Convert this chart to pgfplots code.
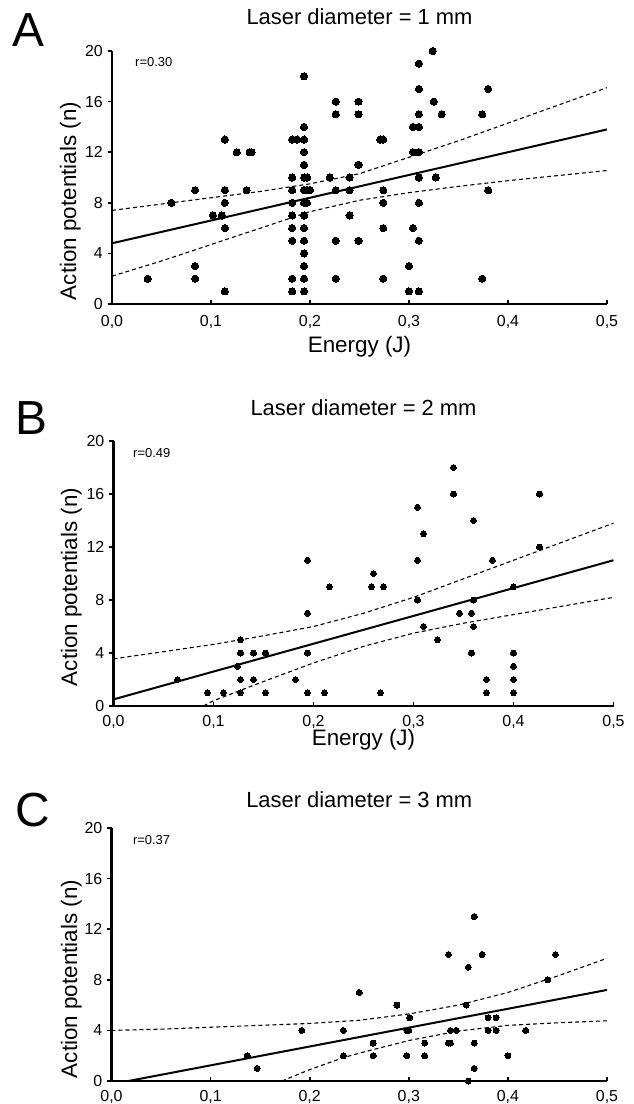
\documentclass[border=0pt]{standalone}
\usepackage{pgfplots}
\pgfplotsset{compat=1.18}
\usepackage{fontspec}
\setmainfont{Liberation Sans}

\newcommand\labfont{\fontsize{22.5}{22.5}\selectfont}
\newcommand\titlefont{\fontsize{22}{22}\selectfont}
\newcommand\tickfont{\fontsize{16}{16}\selectfont}
\newcommand\letterfont{\fontsize{48}{48}\selectfont}
\newcommand\rfont{\fontsize{13}{13}\selectfont}

\pgfplotsset{
  panel/.style={
    scale only axis,
    xmin=0, xmax=0.5, ymin=0, ymax=20,
    axis x line*=bottom, axis y line*=left,
    axis line style={line width=2.2bp, -},
    xtick={0,0.1,0.2,0.3,0.4,0.5},
    ytick={0,4,8,12,16,20},
    minor tick num=0,
    xtick align=inside, ytick align=outside,
    major tick length=4.5bp,
    every tick/.style={line width=1.6bp, black},
    clip mode=individual,
    /pgf/number format/assume math mode=true,
    tick label style={font=\tickfont, inner sep=0pt},
    xticklabel style={anchor=north,
      /pgf/number format/fixed, /pgf/number format/fixed zerofill,
      /pgf/number format/precision=1, /pgf/number format/use comma},
    yticklabel style={anchor=east, xshift=-4.5bp},
    title style={font=\titlefont, anchor=base, inner sep=0pt},
    label style={font=\labfont, inner sep=0pt},
  },
  dots/.style={only marks, mark=*, mark size=#1,
    mark options={draw=black, fill=black, line width=0pt}},
  fit/.style={black, line width=2bp},
  band/.style={black, line width=1.1bp, dash pattern=on 4bp off 3bp},
}

\begin{document}
\begin{tikzpicture}
\useasboundingbox (0,0) rectangle (634bp,-1104bp);

% ---------------- Laser diameter 1 mm ----------------
\begin{axis}[panel,
  at={(112bp,-51bp)}, anchor=north west,
  width=495bp, height=253bp,
  xticklabel style={yshift=-11.5bp},
  title={Laser diameter = 1 mm},
  title style={at={(axis description cs:0.5,1.080)}},
  xlabel={Energy (J)},
  xlabel style={at={(axis description cs:0.5,-0.190)}, anchor=base},
  ylabel={Action potentials (n)},
  ylabel style={at={(axis description cs:-0.0727,0.407)}, anchor=base},
  extra description/.code={
    \node[anchor=base west, inner sep=0pt, font=\letterfont] at (-0.202,1.017) {A};
    \node[anchor=base west, inner sep=0pt, font=\rfont] at (0.0465,0.937) {r=0.30};
  },
]
\addplot[dots=3.6bp] coordinates {
  (0.036,2) (0.060,8) (0.084,9) (0.084,3) (0.084,2)
  (0.102,7) (0.111,7)
  (0.114,13) (0.114,9) (0.114,8) (0.114,6) (0.114,1)
  (0.126,12) (0.136,9) (0.139,12) (0.141,12)
  (0.182,13) (0.182,10) (0.182,9) (0.182,8) (0.182,7) (0.182,6) (0.182,5) (0.182,2) (0.182,1)
  (0.187,13)
  (0.194,18) (0.194,14) (0.194,13) (0.194,12) (0.194,11) (0.194,10) (0.194,9) (0.194,8)
  (0.194,7) (0.194,6) (0.194,5) (0.194,4) (0.194,3) (0.194,2) (0.194,1)
  (0.197,10) (0.197,9) (0.200,9) (0.197,8)
  (0.220,10)
  (0.226,16) (0.226,15) (0.226,9) (0.226,5) (0.226,2)
  (0.240,10) (0.240,9) (0.240,7)
  (0.249,16) (0.249,15) (0.249,11) (0.249,5)
  (0.271,13) (0.274,13) (0.274,9) (0.274,8) (0.274,6) (0.274,2)
  (0.300,3) (0.300,1)
  (0.304,14) (0.304,12) (0.304,6)
  (0.310,19) (0.310,17) (0.310,15) (0.310,14) (0.310,12) (0.310,10) (0.310,8) (0.310,5) (0.310,1)
  (0.324,20) (0.325,16) (0.327,10) (0.333,15)
  (0.374,15) (0.374,2) (0.380,17) (0.380,9)
};
\addplot[fit] coordinates {(0,4.8) (0.5,13.8)};
\addplot[band] coordinates {
  (0,7.4) (0.05,7.9) (0.1,8.4) (0.15,8.9) (0.2,9.5) (0.25,10.3)
  (0.3,11.6) (0.35,12.9) (0.4,14.3) (0.45,15.7) (0.5,17.1)};
\addplot[band] coordinates {
  (0,2.2) (0.05,3.4) (0.1,4.7) (0.15,6.0) (0.2,7.3) (0.25,8.2)
  (0.3,8.8) (0.35,9.3) (0.4,9.75) (0.45,10.15) (0.5,10.55)};
\end{axis}

% ---------------- Laser diameter 2 mm ----------------
\begin{axis}[panel,
  at={(113.5bp,-441bp)}, anchor=north west,
  width=500bp, height=265bp,
  xticklabel style={yshift=-9.5bp},
  title={Laser diameter = 2 mm},
  title style={at={(axis description cs:0.5,1.075)}},
  xlabel={Energy (J)},
  xlabel style={at={(axis description cs:0.5,-0.149)}, anchor=base},
  ylabel={Action potentials (n)},
  ylabel style={at={(axis description cs:-0.073,0.449)}, anchor=base},
  extra description/.code={
    \node[anchor=base west, inner sep=0pt, font=\letterfont] at (-0.197,1.023) {B};
    \node[anchor=base west, inner sep=0pt, font=\rfont] at (0.039,0.936) {r=0.49};
  },
]
\addplot[dots=3bp] coordinates {
  (0.064,2) (0.094,1) (0.110,1) (0.124,3)
  (0.127,5) (0.127,4) (0.127,2) (0.127,1)
  (0.140,4) (0.140,2) (0.152,4) (0.152,1)
  (0.182,2) (0.194,11) (0.194,7) (0.194,4) (0.194,1)
  (0.211,1) (0.216,9)
  (0.258,9) (0.260,10) (0.270,9) (0.267,1)
  (0.304,15) (0.304,11) (0.304,8) (0.310,13) (0.310,6)
  (0.324,5) (0.340,18) (0.340,16)
  (0.346,7) (0.358,7) (0.360,14) (0.360,8) (0.360,6) (0.358,4)
  (0.373,2) (0.373,1) (0.379,11)
  (0.400,9) (0.400,4) (0.400,3) (0.400,2) (0.400,1)
  (0.426,16) (0.426,12)
};
\addplot[fit] coordinates {(0,0.5) (0.5,11.0)};
\addplot[band] coordinates {
  (0,3.56) (0.05,4.1) (0.1,4.65) (0.15,5.3) (0.2,6.0) (0.25,7.0)
  (0.3,8.2) (0.35,9.6) (0.4,11.0) (0.45,12.4) (0.5,13.8)};
\addplot[band] coordinates {
  (0.09,0) (0.1,0.4) (0.15,1.85) (0.2,3.25) (0.25,4.5)
  (0.3,5.5) (0.35,6.25) (0.4,6.9) (0.45,7.55) (0.5,8.2)};
\end{axis}

% ---------------- Laser diameter 3 mm ----------------
\begin{axis}[panel,
  at={(111.5bp,-828bp)}, anchor=north west,
  width=495.5bp, height=253bp,
  xticklabel style={yshift=-9bp},
  title={Laser diameter = 3 mm},
  title style={at={(axis description cs:0.5,1.059)}},
  ylabel={Action potentials (n)},
  ylabel style={at={(axis description cs:-0.0696,0.403)}, anchor=base},
  extra description/.code={
    \node[anchor=base west, inner sep=0pt, font=\letterfont] at (-0.195,1.005) {C};
    \node[anchor=base west, inner sep=0pt, font=\rfont] at (0.043,0.933) {r=0.37};
  },
]
\addplot[dots=3bp] coordinates {
  (0.137,2) (0.147,1) (0.192,4) (0.234,4) (0.234,2) (0.250,7)
  (0.264,3) (0.264,2) (0.288,6) (0.298,2) (0.298,4) (0.300,4) (0.301,5)
  (0.316,3) (0.316,2)
  (0.340,10) (0.340,3) (0.342,3) (0.342,4) (0.348,4)
  (0.358,6) (0.360,9) (0.360,0) (0.366,13) (0.366,3) (0.366,1)
  (0.374,10) (0.380,5) (0.380,4) (0.388,5) (0.388,4)
  (0.400,2) (0.418,4) (0.440,8) (0.448,10)
};
\addplot[fit] coordinates {(0.017,0) (0.5,7.2)};
\addplot[band] coordinates {
  (0,4.0) (0.05,4.1) (0.1,4.25) (0.15,4.4) (0.2,4.55) (0.25,4.8)
  (0.3,5.3) (0.35,6.0) (0.4,7.0) (0.45,8.3) (0.5,9.7)};
\addplot[band] coordinates {
  (0.172,0) (0.2,0.9) (0.234,1.85) (0.25,2.2) (0.3,3.2) (0.35,3.95)
  (0.4,4.4) (0.45,4.6) (0.5,4.76)};
\end{axis}
\end{tikzpicture}
\end{document}
